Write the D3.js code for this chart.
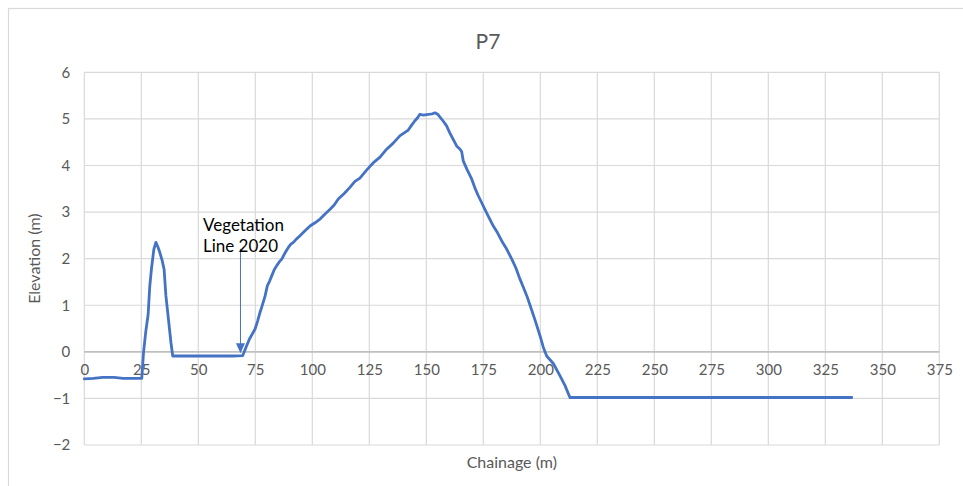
<!DOCTYPE html>
<html>
<head>
<meta charset="utf-8">
<script src="https://cdn.jsdelivr.net/npm/d3@7"></script>
<style>
  html, body { margin: 0; padding: 0; background: #ffffff; }
  svg { display: block; }
  text { font-family: Lato, "Open Sans", sans-serif; }
</style>
</head>
<body>
<svg id="chart" width="963" height="486"></svg>
<script>
// Profile P7: surveyed chainage (m) and elevation (m)
const chainage = [0, 4, 8, 13, 17, 21, 25.2, 26, 27, 28, 28.7, 29.5, 30.5, 31.4, 32.3, 33.2, 34.2, 35, 35.8, 36.9, 38, 38.8,
  45, 55, 65, 69.5, 71.2, 72.5, 73.4, 74.9, 76, 77.1, 78.2, 79.3, 80.3, 81.3, 82.2, 83.3, 84.4, 85.5, 86.6, 88, 89.5,
  90.6, 91.7, 93, 94.6, 96.8, 99, 101.2, 103.4, 105.6, 107.8, 109.6, 111.4, 114, 116.5, 118.7, 120.9, 123.8, 126.8,
  129.7, 132.6, 135.5, 138.5, 140.3, 142.1, 143.5, 145, 146.1, 147.2, 148.7, 150.2, 151.6, 152.7, 153.8, 155, 156,
  157.3, 158.9, 160.3, 161.8, 163.3, 164.8, 165.5, 166.2, 168, 169.9, 171.3, 172.8, 174.3, 175.7, 177.5, 179.4, 181.3,
  183.1, 185.3, 187.5, 189.3, 191.1, 192.6, 194.1, 195.5, 197.7, 199.9, 201.3, 202.8, 205.7, 208.6, 210.8, 213, 336.6];
const elevation = [-0.58, -0.57, -0.55, -0.55, -0.57, -0.57, -0.57, 0.0, 0.45, 0.8, 1.4, 1.8, 2.2, 2.35, 2.25, 2.12, 1.95, 1.77, 1.2, 0.7, 0.2, -0.09,
  -0.09, -0.09, -0.09, -0.08, 0.13, 0.28, 0.36, 0.49, 0.66, 0.85, 1.02, 1.2, 1.42, 1.52, 1.63, 1.76, 1.85, 1.93, 1.99, 2.12, 2.24,
  2.31, 2.35, 2.42, 2.49, 2.6, 2.7, 2.77, 2.85, 2.96, 3.06, 3.15, 3.28, 3.4, 3.53, 3.66, 3.73, 3.9, 4.06,
  4.18, 4.35, 4.48, 4.64, 4.7, 4.76, 4.86, 4.96, 5.02, 5.1, 5.08, 5.09, 5.1, 5.11, 5.13, 5.1, 5.04,
  4.96, 4.85, 4.7, 4.56, 4.42, 4.35, 4.3, 4.1, 3.9, 3.71, 3.52, 3.35, 3.2, 3.06, 2.88, 2.7, 2.55,
  2.38, 2.2, 1.99, 1.8, 1.56, 1.38, 1.2, 1.0, 0.68, 0.34, 0.1, -0.09, -0.25, -0.51, -0.72, -0.98, -0.98];

const xTicks = [0, 25, 50, 75, 100, 125, 150, 175, 200, 225, 250, 275, 300, 325, 350, 375];
const yTicks = [-2, -1, 0, 1, 2, 3, 4, 5, 6];

// Annotation marking the 2020 vegetation line
const vegLineLabel = ["Vegetation", "Line 2020"];
const vegLineChainage = 68.5;
const vegLineTop = 2.2;    // elevation where the arrow starts
const vegLineTip = -0.03;  // elevation at the arrow tip

const svg = d3.select("#chart");
const W = 963, H = 486;
const plot = { left: 84.3, right: 939.3, top: 72.3, bottom: 445 };

const x = d3.scaleLinear().domain([0, 375]).range([plot.left, plot.right]);
const y = d3.scaleLinear().domain([-2, 6]).range([plot.bottom, plot.top]);

const gridColor = "#d9d9d9";
const textColor = "#595959";
const lineColor = "#4472c4";
const font = "Lato, 'Open Sans', sans-serif";

// Chart area border
svg.append("rect")
  .attr("x", 8.5).attr("y", 8.5)
  .attr("width", W + 20).attr("height", H + 20)
  .attr("fill", "#ffffff")
  .attr("stroke", gridColor).attr("stroke-width", 1.2);

// Title
svg.append("text")
  .attr("x", 488).attr("y", 49)
  .attr("text-anchor", "middle")
  .attr("fill", textColor)
  .attr("font-size", 21)
  .text("P7");

// Vertical gridlines
svg.append("g").selectAll("line").data(xTicks).join("line")
  .attr("x1", d => x(d)).attr("x2", d => x(d))
  .attr("y1", plot.top).attr("y2", plot.bottom)
  .attr("stroke", gridColor).attr("stroke-width", 1.2);

// Horizontal gridlines
svg.append("g").selectAll("line").data(yTicks).join("line")
  .attr("x1", plot.left).attr("x2", plot.right)
  .attr("y1", d => y(d)).attr("y2", d => y(d))
  .attr("stroke", d => d === 0 ? "#bfbfbf" : gridColor)
  .attr("stroke-width", d => d === 0 ? 1.6 : 1.2);

// Y axis tick labels
const yAxis = d3.axisLeft(y).tickValues(yTicks).tickSize(0).tickPadding(14).tickFormat(d3.format("d"));
const gy = svg.append("g").attr("transform", `translate(${plot.left},0)`).call(yAxis);
gy.select(".domain").remove();
gy.selectAll("text").attr("fill", textColor).attr("font-size", 15).attr("font-family", font);

// X axis tick labels, sitting on the zero line
const xAxis = d3.axisBottom(x).tickValues(xTicks).tickSize(0).tickPadding(13).tickFormat(d3.format("d"));
const gx = svg.append("g").attr("transform", `translate(0,${y(0)})`).call(xAxis);
gx.select(".domain").remove();
gx.selectAll("text").attr("fill", textColor).attr("font-size", 15).attr("font-family", font);

// Axis titles
svg.append("text")
  .attr("transform", `translate(40,${(plot.top + plot.bottom) / 2}) rotate(-90)`)
  .attr("text-anchor", "middle")
  .attr("fill", textColor)
  .attr("font-size", 16)
  .text("Elevation (m)");

svg.append("text")
  .attr("x", (plot.left + plot.right) / 2).attr("y", 468)
  .attr("text-anchor", "middle")
  .attr("fill", textColor)
  .attr("font-size", 16)
  .text("Chainage (m)");

// Profile line
const data = chainage.map((c, i) => [c, elevation[i]]);
svg.append("path")
  .datum(data)
  .attr("fill", "none")
  .attr("stroke", lineColor)
  .attr("stroke-width", 2.8)
  .attr("stroke-linejoin", "round")
  .attr("stroke-linecap", "round")
  .attr("d", d3.line().x(d => x(d[0])).y(d => y(d[1])));

// Vegetation line annotation
const ax = x(vegLineChainage);
const ayTop = y(vegLineTop) - 0.5;
const ayTip = y(vegLineTip);
svg.append("line")
  .attr("x1", ax).attr("x2", ax)
  .attr("y1", ayTop).attr("y2", ayTip - 8)
  .attr("stroke", lineColor).attr("stroke-width", 1);
svg.append("path")
  .attr("d", `M${ax - 4.5},${ayTip - 10} L${ax + 4.5},${ayTip - 10} L${ax},${ayTip} Z`)
  .attr("fill", lineColor);

svg.append("g").selectAll("text").data(vegLineLabel).join("text")
  .attr("x", 203)
  .attr("y", (d, i) => 231 + i * 21)
  .attr("fill", "#000000")
  .attr("font-size", 17)
  .text(d => d);
</script>
</body>
</html>
